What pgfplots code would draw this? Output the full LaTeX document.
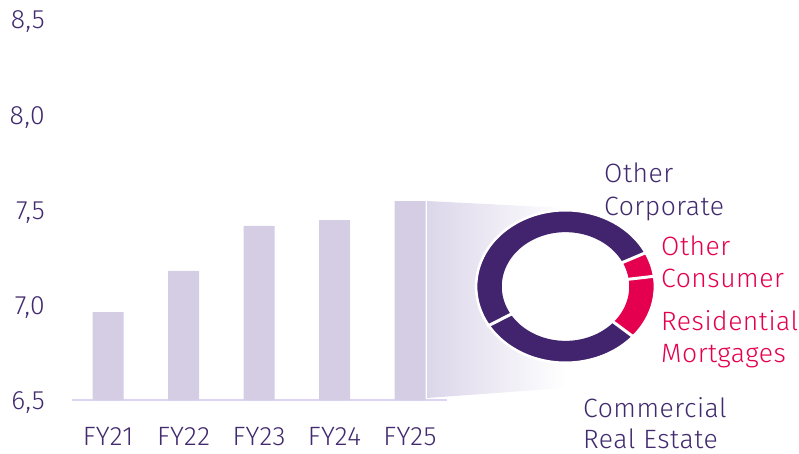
\documentclass[border=0pt]{standalone}
\usepackage{fontspec}
\setmainfont{Fira Sans Light}[LetterSpace=2]
\usepackage{pgfplots}
\pgfplotsset{compat=1.18}
\usepgfplotslibrary{fillbetween}
\definecolor{txt}{HTML}{412A6E}
\definecolor{dpurp}{HTML}{42246E}
\definecolor{mag}{HTML}{E4004F}
\definecolor{barcol}{HTML}{D4CDE4}
\definecolor{axcol}{HTML}{DCD4F2}
\definecolor{gradL}{HTML}{DCD6EA}
% donut segment: name, start angle, end angle, colour
\newcommand{\seg}[4]{%
  \addplot[name path=#1o, draw=none, domain=#2:#3, samples=70, variable=\t] ({cos(\t)},{sin(\t)});
  \addplot[name path=#1i, draw=none, domain=#2:#3, samples=70, variable=\t] ({0.72*cos(\t)},{0.72*sin(\t)});
  \addplot[fill=#4, draw=none] fill between[of=#1o and #1i, on layer=main];
}
\newcommand{\gap}[1]{%
  \addplot[white, line width=3pt, domain=0.66:1.03, samples=2, variable=\t] ({\t*cos(#1)},{\t*sin(#1)});
}
\begin{document}
\fontsize{26.5}{32}\selectfont
\begin{tikzpicture}[x=1pt,y=1pt]
\path (0,0) rectangle (799,453);
\begin{axis}[
  at={(72pt,53pt)}, anchor=south west,
  scale only axis, width=375pt, height=380pt,
  xmin=-0.477, xmax=4.49, ymin=6.5, ymax=8.5,
  enlargelimits=false,
  ybar, bar width=31pt,
  xtick={0,1,2,3,4},
  xticklabels={FY21,FY22,FY23,FY24,FY25},
  ytick={6.5,7,7.5,8,8.5},
  major tick length=0pt, tick style={draw=none},
  axis x line*=bottom, axis y line*=left,
  x axis line style={draw=axcol, line width=2pt},
  y axis line style={draw=none},
  tick label style={text=txt, font=\fontsize{26.5}{32}\selectfont, inner sep=0pt},
  xticklabel style={anchor=base, yshift=-45pt},
  yticklabel style={anchor=base east, xshift=-27pt, yshift=-9pt},
  /pgf/number format/use comma,
  /pgf/number format/fixed,
  /pgf/number format/fixed zerofill,
  /pgf/number format/precision=1,
  /pgf/number format/assume math mode=true,
]
\addplot[fill=barcol, draw=none] coordinates {(0,6.962) (1,7.179) (2,7.417) (3,7.447) (4,7.547)};
\end{axis}
\begin{axis}[
  at={(565.5pt,166.5pt)}, anchor=center,
  scale only axis, width=177pt, height=151pt,
  xmin=-1, xmax=1, ymin=-1, ymax=1,
  hide axis, clip=false, enlargelimits=false,
]
\addplot[draw=none, left color=gradL, right color=white] coordinates {(-1.565,1.132) (0.006,1.040) (0.006,-1.344) (-1.565,-1.477)} -- cycle;
\addplot[fill=white, draw=none, domain=0:360, samples=120, variable=\t] ({0.75*cos(\t)},{0.75*sin(\t)}) -- cycle;
% shares: Other Corporate 51.25%, Commercial Real Estate 30.05%, Residential Mortgages 13.53%, Other Consumer 5.17%
\seg{oc}{26.3}{210.8}{dpurp}
\seg{cre}{210.8}{319.0}{dpurp}
\seg{rm}{319.0}{367.7}{mag}
\seg{ocon}{367.7}{386.3}{mag}
\addplot[white, line width=2.5pt, domain=0:360, samples=180, variable=\t] ({1.01*cos(\t)},{1.01*sin(\t)});
\gap{26.3}
\gap{210.8}
\gap{319.0}
\gap{7.7}
\end{axis}
\node[anchor=base west, inner sep=0, text=txt] at (604,270) {Other};
\node[anchor=base west, inner sep=0, text=txt] at (604,238) {Corporate};
\node[anchor=base west, inner sep=0, text=mag] at (661,198) {Other};
\node[anchor=base west, inner sep=0, text=mag] at (661,166) {Consumer};
\node[anchor=base west, inner sep=0, text=mag] at (661,123) {Residential};
\node[anchor=base west, inner sep=0, text=mag] at (661,91) {Mortgages};
\node[anchor=base west, inner sep=0, text=txt] at (583,36) {Commercial};
\node[anchor=base west, inner sep=0, text=txt] at (583,5) {Real Estate};
\pgfresetboundingbox
\path[use as bounding box] (0,0) rectangle (799,453);
\end{tikzpicture}
\end{document}
